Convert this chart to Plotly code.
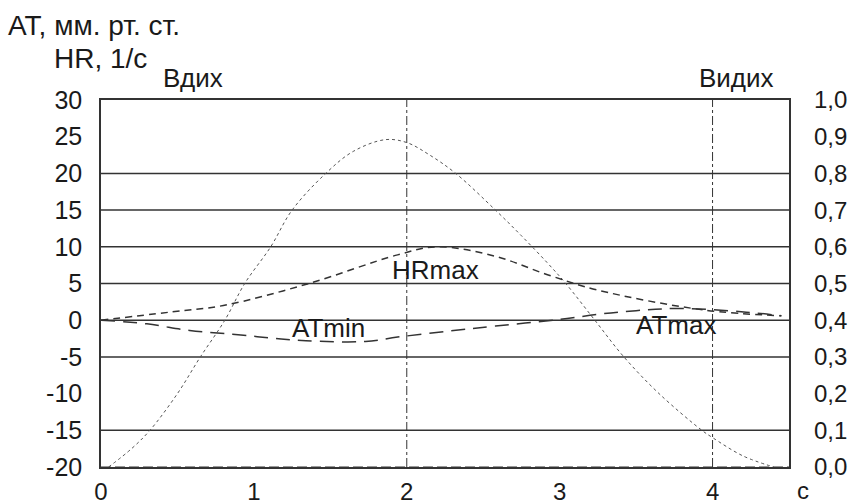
import plotly.graph_objects as go

# ---- data ----
resp_t = [0.05, 0.2, 0.32, 0.5, 0.65, 0.81, 0.94, 1.11, 1.25, 1.47, 1.65, 1.86, 2.0, 2.15, 2.32, 2.58, 2.75, 2.92, 3.04, 3.23, 3.42, 3.65, 3.93, 4.0, 4.2, 4.4]
resp_v = [-20, -17.5, -15, -10, -5, 0, 5, 10, 15, 20, 23, 24.6, 24.2, 22.5, 20, 15, 11.5, 7.8, 5, 0, -5, -10, -15, -16, -18.5, -20]

hr_t = [0.0, 0.45, 0.8, 1.36, 1.94, 2.2, 2.58, 2.92, 3.25, 3.94, 4.45]
hr_v = [0.0, 1.1, 2.0, 5.0, 8.9, 10.0, 8.7, 6.2, 4.1, 1.4, 0.6]

at_t = [0.0, 0.3, 0.58, 0.86, 1.1, 1.34, 1.73, 1.94, 2.27, 2.58, 3.0, 3.25, 3.5, 3.79, 4.22, 4.45]
at_v = [0.0, -0.5, -1.4, -1.9, -2.4, -2.8, -2.9, -2.3, -1.5, -0.8, 0.1, 0.8, 1.3, 1.6, 1.1, 0.6]

x_ticks = [0, 1, 2, 3, 4]
y_ticks = [30, 25, 20, 15, 10, 5, 0, -5, -10, -15, -20]
y_tick_text = ["30", "25", "20", "15", "10", "5", "0", "-5", "-10", "-15", "-20"]
y2_ticks = [0.0, 0.1, 0.2, 0.3, 0.4, 0.5, 0.6, 0.7, 0.8, 0.9, 1.0]
y2_tick_text = ["0,0", "0,1", "0,2", "0,3", "0,4", "0,5", "0,6", "0,7", "0,8", "0,9", "1,0"]
grid_levels = [20, 15, 10, 5, 0, -5, -15]
phase_lines = [2, 4]

FONT = "Liberation Sans, Arial, sans-serif"
INK = "#1a1a1a"
LINE = "#333333"

W, H = 853, 504
L, T = 101, 100
R = W - 789
B = H - 467
pw, ph = W - L - R, H - T - B

def px(xs):
    return (xs - L) / pw

def py(ys):
    return (H - B - ys) / ph

fig = go.Figure()

fig.add_trace(go.Scatter(x=resp_t, y=resp_v, mode="lines", line=dict(color="#555555", width=1, dash="dot", shape="spline"), showlegend=False))
fig.add_trace(go.Scatter(x=hr_t, y=hr_v, mode="lines", line=dict(color=LINE, width=1.5, dash="7px,5px", shape="spline"), showlegend=False))
fig.add_trace(go.Scatter(x=at_t, y=at_v, mode="lines", line=dict(color=LINE, width=1.5, dash="14px,8px", shape="spline"), showlegend=False))
fig.add_trace(go.Scatter(x=[0, 4.5], y=[0, 0], yaxis="y2", mode="lines", line=dict(color=LINE, width=1, dash="10px,4px"), showlegend=False))

shapes = []
for g in grid_levels:
    shapes.append(dict(type="line", xref="x", yref="y", x0=0, x1=4.5, y0=g, y1=g, line=dict(color=LINE, width=1.5), layer="below"))
for p in phase_lines:
    shapes.append(dict(type="line", xref="x", yref="y", x0=p, x1=p, y0=-20, y1=30, line=dict(color=LINE, width=1, dash="dashdot"), layer="below"))

lab = dict(size=26, color=INK, family=FONT)
big = dict(size=28, color=INK, family=FONT)
annotations = [
    dict(text="HRmax", x=2.19, y=6.9, xref="x", yref="y", showarrow=False, font=lab),
    dict(text="ATmin", x=1.49, y=-1.0, xref="x", yref="y", showarrow=False, font=lab),
    dict(text="ATmax", x=3.76, y=-0.6, xref="x", yref="y", showarrow=False, font=lab),
    dict(text="AT, мм. рт. ст.", x=px(6), y=py(26), xref="paper", yref="paper", showarrow=False, xanchor="left", yanchor="middle", font=big),
    dict(text="HR, 1/с", x=px(52), y=py(58), xref="paper", yref="paper", showarrow=False, xanchor="left", yanchor="middle", font=big),
    dict(text="Вдих", x=px(193), y=py(78), xref="paper", yref="paper", showarrow=False, xanchor="center", yanchor="middle", font=lab),
    dict(text="Видих", x=px(736), y=py(78), xref="paper", yref="paper", showarrow=False, xanchor="center", yanchor="middle", font=lab),
    dict(text="с", x=px(803), y=py(490), xref="paper", yref="paper", showarrow=False, xanchor="center", yanchor="middle", font=dict(size=24, color=INK, family=FONT)),
]

fig.update_layout(
    width=W, height=H,
    margin=dict(l=L, r=R, t=T, b=B, pad=0, autoexpand=False),
    paper_bgcolor="white", plot_bgcolor="white",
    font=dict(family=FONT, size=24, color=INK),
    shapes=shapes, annotations=annotations,
    xaxis=dict(range=[0, 4.5], tickvals=x_ticks, ticktext=[str(v) for v in x_ticks], showgrid=False, zeroline=False,
               showline=True, linecolor=LINE, linewidth=1.5, mirror=True, ticks="", tickfont=dict(size=24),
               ticklabelstandoff=2, automargin=False),
    yaxis=dict(range=[-20, 30], tickvals=y_ticks, ticktext=y_tick_text, showgrid=False, zeroline=False,
               showline=True, linecolor=LINE, linewidth=1.5, mirror=True, ticks="", tickfont=dict(size=25),
               ticklabelstandoff=12, automargin=False),
    yaxis2=dict(range=[0, 1], overlaying="y", side="right", tickvals=y2_ticks, ticktext=y2_tick_text, showgrid=False,
                zeroline=False, showline=False, ticks="", tickfont=dict(size=24), ticklabelstandoff=24, automargin=False),
)

fig.write_html("out.html", config={"displayModeBar": False},
               post_script="document.body.style.margin='0';document.body.style.overflow='hidden';")
